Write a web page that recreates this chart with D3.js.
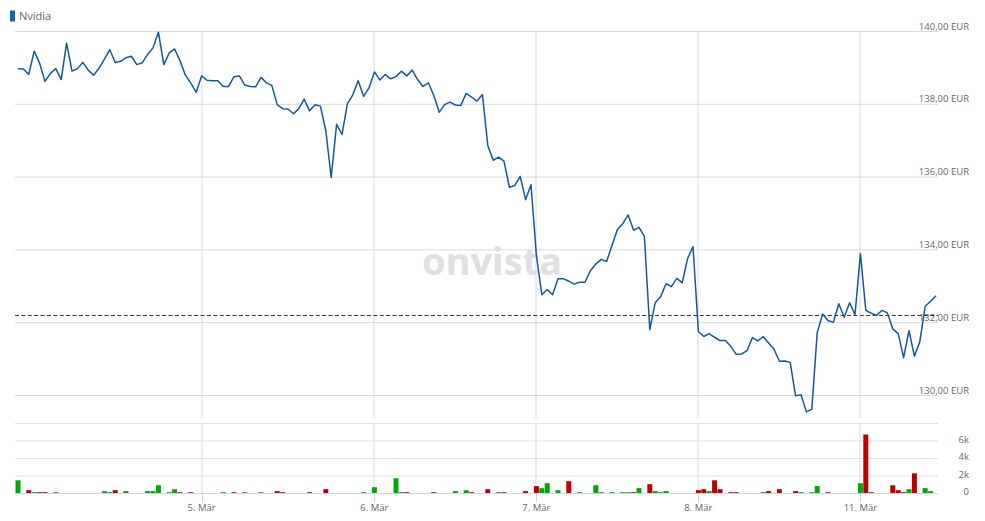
<!DOCTYPE html>
<html>
<head>
<meta charset="utf-8">
<script src="https://cdn.jsdelivr.net/npm/d3@7"></script>
<style>
body { margin: 0; background: #fff; }
text { font-family: "Open Sans", sans-serif; }
</style>
</head>
<body>
<div id="chart"></div>
<script>
// Nvidia intraday, one value per slot (roughly every half hour)
var PRICES = [
    138.98, 138.97, 138.82, 139.46, 139.13, 138.63, 138.85, 138.98, 138.68, 139.68,
    138.91, 138.98, 139.15, 138.94, 138.80, 138.99, 139.24, 139.50, 139.15, 139.18,
    139.28, 139.32, 139.09, 139.14, 139.37, 139.55, 139.98, 139.09, 139.41, 139.52,
    139.20, 138.80, 138.58, 138.33, 138.78, 138.66, 138.65, 138.65, 138.49, 138.49,
    138.76, 138.78, 138.53, 138.49, 138.48, 138.74, 138.59, 138.52, 137.99, 137.88,
    137.87, 137.74, 137.88, 138.14, 137.82, 137.99, 137.95, 137.28, 135.99, 137.45,
    137.17, 138.01, 138.26, 138.65, 138.22, 138.45, 138.89, 138.67, 138.82, 138.70,
    138.76, 138.91, 138.78, 138.94, 138.68, 138.49, 138.59, 138.24, 137.78, 137.99,
    138.06, 137.98, 137.97, 138.30, 138.20, 138.09, 138.27, 136.87, 136.46, 136.55,
    136.44, 135.72, 135.77, 136.02, 135.38, 135.79, 133.85, 132.77, 132.91, 132.77,
    133.21, 133.21, 133.14, 133.06, 133.11, 133.11, 133.43, 133.61, 133.74, 133.68,
    134.12, 134.56, 134.72, 134.96, 134.54, 134.62, 134.37, 131.81, 132.55, 132.71,
    133.07, 132.99, 133.22, 133.10, 133.76, 134.09, 131.76, 131.62, 131.70, 131.60,
    131.51, 131.51, 131.35, 131.13, 131.14, 131.23, 131.59, 131.50, 131.62, 131.44,
    131.27, 130.94, 130.95, 130.91, 129.99, 130.02, 129.55, 129.62, 131.72, 132.24,
    132.06, 132.01, 132.52, 132.15, 132.55, 132.22, 133.90, 132.34, 132.26, 132.20,
    132.34, 132.27, 131.83, 131.70, 131.04, 131.78, 131.08, 131.48, 132.45, 132.59,
    132.74
];
var PREV_CLOSE = 132.20;

// volume: slot index, shares, side (b = up / green, s = down / red)
var VOL_SLOT = [0, 2, 3, 4, 5, 7, 16, 17, 18, 20, 24, 25, 26, 28, 29, 30, 32, 38, 40, 42,
    45, 48, 49, 54, 57, 64, 66, 70, 71, 72, 77, 81, 83, 84, 87, 89, 90, 94, 96, 97,
    98, 100, 102, 104, 107, 108, 110, 112, 113, 114, 115, 117, 118, 119, 120, 126, 127, 128, 129, 130,
    132, 133, 138, 139, 141, 144, 145, 147, 148, 150, 156, 157, 158, 162, 163, 164, 165, 166, 168, 169];
var VOL_VALUE = [1510, 380, 150, 150, 150, 150, 270, 150, 380, 270, 270, 270, 940, 150, 490, 150, 150, 150, 150, 150,
    150, 270, 150, 150, 490, 150, 720, 1740, 150, 150, 150, 270, 380, 150, 490, 150, 150, 270, 840, 610,
    1180, 380, 1410, 150, 940, 150, 150, 150, 150, 150, 610, 1060, 270, 150, 270, 380, 490, 270, 1510, 490,
    150, 150, 150, 270, 490, 270, 150, 150, 840, 150, 1180, 6740, 150, 940, 380, 150, 490, 2310, 610, 270];
var VOL_SIDE = "bsbssbbbsbbbbbbssbsbbssssbbbbssbbssbsssbbbsbbbbbbsbsbbbssbss" +
    "ssbsssbbbsbsssssbsbb";

var DAY_LABELS = ["5. Mär", "6. Mär", "7. Mär", "8. Mär", "11. Mär"];
var DAY_START = [34, 66, 96, 126, 156];
var PRICE_TICKS = [130, 132, 134, 136, 138, 140];
var VOL_TICKS = [0, 2000, 4000, 6000, 8000];

var WIDTH = 985, HEIGHT = 521;
var LEFT = 15, RIGHT = 938;

function euro(v) {
    return d3.format(".2f")(v).replace(".", ",") + " EUR";
}

function volLabel(v) {
    return v === 0 ? "0" : (v / 1000) + "k";
}

function createChart(id) {

    var svg = d3.select(id).append("svg")
                .attr("width", WIDTH)
                .attr("height", HEIGHT);

    var x = d3.scaleLinear().domain([0, PRICES.length - 1]).range([18, 936]);
    var y = d3.scaleLinear().domain([130, 140]).range([395.5, 31.5]);
    var yVol = d3.scaleLinear().domain([0, 8000]).range([493.5, 423.5]);

    // vertical day lines in both panels
    var dayX = function(d) { return Math.round(x(d)); };
    svg.selectAll(".vgrid")
        .data(DAY_START)
        .enter().append("line")
        .attr("class", "vgrid")
        .attr("x1", dayX).attr("x2", dayX)
        .attr("y1", 31).attr("y2", 418)
        .attr("stroke", "#ececec").attr("stroke-width", 2);
    svg.selectAll(".vgrid2")
        .data(DAY_START)
        .enter().append("line")
        .attr("class", "vgrid2")
        .attr("x1", dayX).attr("x2", dayX)
        .attr("y1", 423).attr("y2", 493)
        .attr("stroke", "#ececec").attr("stroke-width", 2);

    // price grid + labels
    svg.selectAll(".pgrid")
        .data(PRICE_TICKS)
        .enter().append("line")
        .attr("class", "pgrid")
        .attr("x1", LEFT).attr("x2", RIGHT)
        .attr("y1", function(d) { return y(d); })
        .attr("y2", function(d) { return y(d); })
        .attr("stroke", "#d9d9d9");

    svg.append("text")
        .attr("x", 492).attr("y", 275)
        .attr("text-anchor", "middle")
        .attr("font-size", 38).attr("font-weight", "bold")
        .attr("fill", "#e0e0e0")
        .text("onvista");

    svg.selectAll(".plabel")
        .data(PRICE_TICKS)
        .enter().append("text")
        .attr("class", "plabel")
        .attr("x", 969)
        .attr("y", function(d) { return y(d) - 2; })
        .attr("text-anchor", "end")
        .attr("font-size", 9.5)
        .attr("fill", "#666")
        .text(euro);

    // volume grid + labels
    svg.selectAll(".vlgrid")
        .data(VOL_TICKS.slice(1))
        .enter().append("line")
        .attr("class", "vlgrid")
        .attr("x1", LEFT).attr("x2", RIGHT)
        .attr("y1", function(d) { return yVol(d); })
        .attr("y2", function(d) { return yVol(d); })
        .attr("stroke", "#e0e0e0");

    svg.selectAll(".vlabel")
        .data(VOL_TICKS.slice(0, 4))
        .enter().append("text")
        .attr("class", "vlabel")
        .attr("x", 969)
        .attr("y", function(d) { return yVol(d) + 1.5; })
        .attr("text-anchor", "end")
        .attr("font-size", 9.5)
        .attr("fill", "#666")
        .text(volLabel);

    // volume bars
    svg.selectAll(".vol")
        .data(VOL_SLOT)
        .enter().append("rect")
        .attr("class", "vol")
        .attr("x", function(d) { return x(d) - 2.5; })
        .attr("width", 5)
        .attr("y", function(d, i) { return yVol(VOL_VALUE[i]); })
        .attr("height", function(d, i) { return yVol(0) - yVol(VOL_VALUE[i]); })
        .attr("fill", function(d, i) { return VOL_SIDE[i] === "b" ? "#00a800" : "#bb0000"; });

    // x axis line, ticks, labels
    svg.append("line")
        .attr("x1", LEFT).attr("x2", RIGHT)
        .attr("y1", 493.5).attr("y2", 493.5)
        .attr("stroke", "#ccd6eb");
    svg.selectAll(".xtick")
        .data(DAY_START)
        .enter().append("line")
        .attr("class", "xtick")
        .attr("x1", function(d) { return Math.round(x(d)) + 0.5; })
        .attr("x2", function(d) { return Math.round(x(d)) + 0.5; })
        .attr("y1", 494).attr("y2", 502)
        .attr("stroke", "#ccd6eb");
    svg.selectAll(".xlabel")
        .data(DAY_START)
        .enter().append("text")
        .attr("class", "xlabel")
        .attr("x", function(d) { return x(d); })
        .attr("y", 511)
        .attr("text-anchor", "middle")
        .attr("font-size", 9.5)
        .attr("fill", "#666")
        .text(function(d, i) { return DAY_LABELS[i]; });

    // previous close
    svg.append("line")
        .attr("x1", LEFT).attr("x2", RIGHT)
        .attr("y1", Math.round(y(PREV_CLOSE)) + 0.5)
        .attr("y2", Math.round(y(PREV_CLOSE)) + 0.5)
        .attr("stroke", "#333")
        .attr("stroke-dasharray", "4,2.4");

    // price line
    var line = d3.line()
                .x(function(d, i) { return x(i); })
                .y(function(d) { return y(d); });
    svg.append("path")
        .datum(PRICES)
        .attr("d", line)
        .attr("fill", "none")
        .attr("stroke", "#14589f")
        .attr("stroke-width", 1.5)
        .attr("stroke-linejoin", "round");

    // legend
    svg.append("rect")
        .attr("x", 10).attr("y", 10.5)
        .attr("width", 5).attr("height", 11)
        .attr("fill", "#1660b0");
    svg.append("text")
        .attr("x", 19).attr("y", 20)
        .attr("font-size", 11)
        .attr("fill", "#666")
        .text("Nvidia");
}

createChart("#chart");
</script>
</body>
</html>
